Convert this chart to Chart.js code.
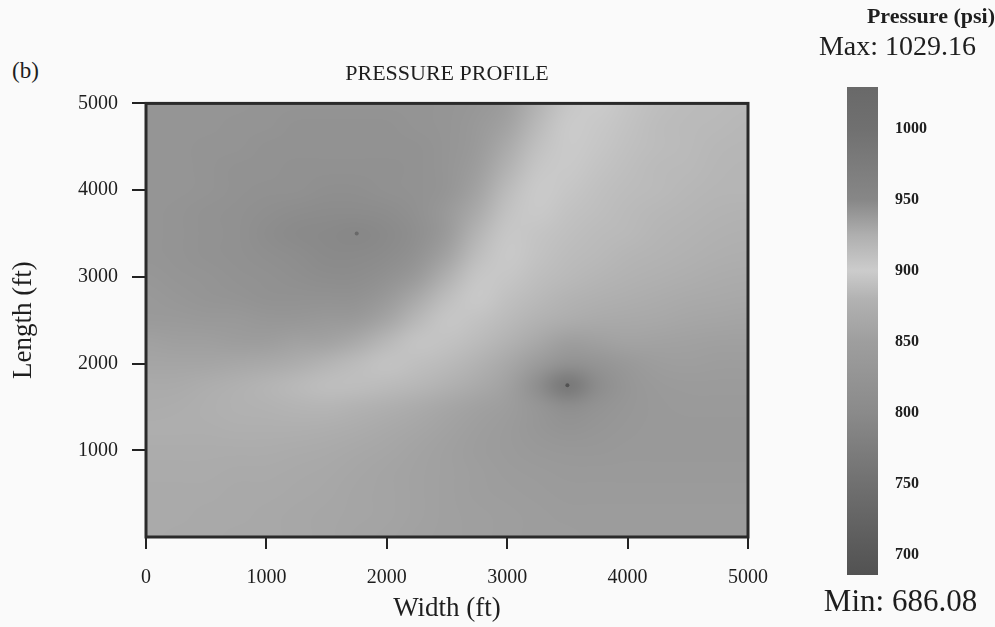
<!DOCTYPE html>
<html>
<head>
<meta charset="utf-8">
<title>Pressure profile</title>
<script src="https://cdn.jsdelivr.net/npm/chart.js@4.4.1/dist/chart.umd.min.js"></script>
<style>
  html, body { margin: 0; padding: 0; background: #fafafa; }
  #wrap { position: relative; width: 995px; height: 627px; overflow: hidden; }
  #mainChart { position: absolute; left: 0; top: 0; }
  #barChart { position: absolute; left: 800px; top: 0; }
  #panelTag { position: absolute; left: 12px; top: 58px; font: 23px 'Liberation Serif', 'Times New Roman', serif; color: #1e1e1e; }
</style>
</head>
<body>
<div id="wrap">
  <div id="panelTag">(b)</div>
  <canvas id="mainChart" width="800" height="627" style="width:800px;height:627px"></canvas>
  <canvas id="barChart" width="195" height="627" style="width:195px;height:627px"></canvas>
</div>
<script>
// Pressure profile (b): grid of pressures, with the colour bar on the right

// grid nodes (ft), every 250 ft; rows go from the top of the plot (5000) down to 0
const gridX = [0, 250, 500, 750, 1000, 1250, 1500, 1750, 2000, 2250, 2500, 2750, 3000, 3250, 3500, 3750, 4000, 4250, 4500, 4750, 5000];
const gridY = [5000, 4750, 4500, 4250, 4000, 3750, 3500, 3250, 3000, 2750, 2500, 2250, 2000, 1750, 1500, 1250, 1000, 750, 500, 250, 0];

// pressure (psi) at each node, one row per gridY value
const pressureGrid = [
    [941, 941, 941, 941, 942, 942, 942, 942, 942, 942, 941, 940, 936, 922, 905, 901, 894, 889, 887, 886, 885],
    [941, 941, 941, 942, 942, 943, 943, 943, 943, 942, 941, 939, 933, 916, 902, 897, 892, 888, 886, 885, 884],
    [941, 941, 942, 942, 943, 943, 943, 943, 943, 943, 941, 938, 928, 910, 902, 895, 891, 888, 886, 884, 883],
    [941, 941, 942, 943, 943, 944, 944, 944, 944, 943, 941, 936, 922, 905, 903, 893, 889, 886, 885, 883, 882],
    [941, 941, 942, 943, 944, 944, 945, 945, 944, 943, 941, 933, 915, 902, 895, 891, 888, 886, 884, 882, 882],
    [941, 942, 943, 944, 945, 946, 947, 947, 946, 944, 939, 928, 909, 903, 892, 889, 886, 884, 882, 881, 880],
    [941, 942, 943, 944, 946, 948, 949, 951, 948, 945, 938, 921, 904, 894, 890, 887, 885, 882, 881, 879, 877],
    [941, 942, 943, 944, 945, 946, 948, 948, 947, 943, 933, 913, 903, 892, 888, 885, 882, 881, 879, 876, 874],
    [940, 941, 942, 943, 944, 945, 946, 946, 944, 938, 924, 905, 895, 889, 885, 882, 880, 877, 874, 871, 870],
    [939, 940, 941, 942, 943, 943, 943, 943, 939, 929, 912, 903, 891, 885, 881, 877, 874, 871, 868, 867, 865],
    [938, 938, 939, 939, 940, 940, 939, 938, 931, 917, 905, 892, 886, 880, 873, 868, 867, 865, 862, 861, 859],
    [934, 935, 935, 936, 936, 934, 933, 928, 917, 907, 892, 887, 880, 865, 850, 853, 857, 856, 855, 853, 853],
    [931, 931, 931, 930, 929, 926, 921, 914, 908, 890, 886, 880, 865, 843, 818, 825, 838, 848, 850, 848, 848],
    [928, 928, 926, 924, 921, 916, 912, 889, 887, 884, 879, 868, 855, 810, 760, 805, 830, 840, 843, 843, 843],
    [927, 926, 925, 923, 922, 921, 882, 880, 876, 870, 862, 855, 848, 830, 810, 823, 833, 838, 840, 840, 840],
    [874, 874, 874, 876, 876, 876, 874, 871, 867, 862, 856, 850, 843, 833, 825, 830, 835, 838, 838, 838, 838],
    [871, 871, 871, 871, 871, 870, 868, 865, 862, 858, 853, 848, 843, 838, 835, 835, 838, 838, 838, 838, 838],
    [870, 870, 870, 868, 868, 867, 865, 862, 859, 856, 853, 850, 845, 843, 840, 840, 840, 840, 840, 840, 840],
    [868, 868, 868, 867, 867, 865, 864, 861, 859, 856, 853, 850, 848, 845, 843, 843, 843, 843, 843, 843, 843],
    [868, 868, 867, 867, 865, 864, 862, 861, 859, 856, 853, 852, 850, 848, 845, 845, 845, 845, 845, 845, 845],
    [868, 867, 867, 865, 865, 864, 862, 859, 858, 855, 853, 852, 850, 848, 848, 845, 845, 845, 845, 845, 845],
];

// wells: injector (max) and producer (min)
const wellX = [1750, 3500];
const wellY = [3500, 1750];
const wellP = [1029.16, 686.08];

const xTicks = [0, 1000, 2000, 3000, 4000, 5000];
const yTicks = [1000, 2000, 3000, 4000, 5000];
const barTicks = [700, 750, 800, 850, 900, 950, 1000];
const pMin = 686.08;
const pMax = 1029.16;

// colour scale of the bar: pressure -> grey level
const cmapPsi = [686.08, 700, 750, 800, 850, 880, 900, 925, 950, 1000, 1029.16];
const cmapGray = [82, 88, 112, 138, 158, 178, 204, 175, 135, 112, 105];

const SERIF = "'Liberation Serif', 'Times New Roman', serif";
const INK = '#1e1e1e';
Chart.defaults.font.family = SERIF;
Chart.defaults.color = INK;

function grayLevel(p) {
    if (p <= cmapPsi[0]) return cmapGray[0];
    for (let i = 1; i < cmapPsi.length; i++) {
        if (p <= cmapPsi[i]) {
            const t = (p - cmapPsi[i - 1]) / (cmapPsi[i] - cmapPsi[i - 1]);
            return cmapGray[i - 1] + t * (cmapGray[i] - cmapGray[i - 1]);
        }
    }
    return cmapGray[cmapGray.length - 1];
}

function grayFor(p) {
    const g = Math.round(grayLevel(p));
    return `rgb(${g}, ${g}, ${g})`;
}

// paints the pressure grid into the plot area, placed with the chart's own scales
const heatmapPlugin = {
    id: 'heatmap',
    beforeDatasetsDraw(chart) {
        const { ctx, chartArea, scales } = chart;
        const cols = gridX.length;
        const rows = gridY.length;
        const off = document.createElement('canvas');
        off.width = cols;
        off.height = rows;
        const octx = off.getContext('2d');
        const img = octx.createImageData(cols, rows);
        for (let r = 0; r < rows; r++) {
            for (let c = 0; c < cols; c++) {
                const g = Math.round(grayLevel(pressureGrid[r][c]));
                const k = (r * cols + c) * 4;
                img.data[k] = g;
                img.data[k + 1] = g;
                img.data[k + 2] = g;
                img.data[k + 3] = 255;
            }
        }
        octx.putImageData(img, 0, 0);

        const halfX = (gridX[1] - gridX[0]) / 2;
        const halfY = (gridY[0] - gridY[1]) / 2;
        const x0 = scales.x.getPixelForValue(gridX[0] - halfX);
        const x1 = scales.x.getPixelForValue(gridX[cols - 1] + halfX);
        const y0 = scales.y.getPixelForValue(gridY[0] + halfY);
        const y1 = scales.y.getPixelForValue(gridY[rows - 1] - halfY);

        ctx.save();
        ctx.beginPath();
        ctx.rect(chartArea.left, chartArea.top, chartArea.right - chartArea.left, chartArea.bottom - chartArea.top);
        ctx.clip();
        ctx.imageSmoothingEnabled = true;
        ctx.imageSmoothingQuality = 'high';
        ctx.drawImage(off, x0, y0, x1 - x0, y1 - y0);
        ctx.restore();
    },
};

// thick box round the plot
const framePlugin = {
    id: 'frame',
    afterDraw(chart) {
        const { ctx, chartArea } = chart;
        ctx.save();
        ctx.strokeStyle = '#2a2a2a';
        ctx.lineWidth = 3;
        ctx.strokeRect(chartArea.left, chartArea.top, chartArea.right - chartArea.left, chartArea.bottom - chartArea.top);
        ctx.restore();
    },
};

const minLabelPlugin = {
    id: 'minLabel',
    afterDraw(chart) {
        const ctx = chart.ctx;
        ctx.save();
        ctx.fillStyle = INK;
        ctx.font = `31px ${SERIF}`;
        ctx.textAlign = 'center';
        ctx.textBaseline = 'middle';
        ctx.fillText(`Min: ${pMin.toFixed(2)}`, chart.width / 2 + 3, 603);
        ctx.restore();
    },
};

const plainTick = v => String(v);

new Chart(document.getElementById('mainChart'), {
    type: 'scatter',
    data: {
        datasets: [{
            label: 'Wells',
            data: wellX.map((x, i) => ({ x: x, y: wellY[i] })),
            pointRadius: 2,
            pointBorderWidth: 0,
            pointBackgroundColor: wellP.map(p => grayFor(p)),
        }],
    },
    options: {
        responsive: false,
        animation: false,
        layout: { padding: { left: 0, right: 52, top: 0, bottom: 0 } },
        plugins: {
            legend: { display: false },
            tooltip: { enabled: false },
            title: {
                display: true,
                text: 'PRESSURE PROFILE',
                fullSize: false,
                color: INK,
                font: { size: 22, weight: 'normal' },
                padding: { top: 61, bottom: 16 },
            },
        },
        scales: {
            x: {
                type: 'linear',
                min: 0,
                max: 5000,
                afterBuildTicks: s => { s.ticks = xTicks.map(v => ({ value: v })); },
                afterFit: s => { s.height = 90; },
                border: { display: false },
                grid: { drawOnChartArea: false, drawTicks: true, tickLength: 12, color: '#222', lineWidth: 2 },
                ticks: { padding: 17, maxRotation: 0, font: { size: 20 }, callback: plainTick },
                title: { display: true, text: 'Width (ft)', font: { size: 27 }, padding: { top: 0, bottom: 2 } },
            },
            y: {
                type: 'linear',
                min: 0,
                max: 5000,
                afterBuildTicks: s => { s.ticks = yTicks.map(v => ({ value: v })); },
                afterFit: s => { s.width = 146; },
                border: { display: false },
                grid: { drawOnChartArea: false, drawTicks: true, tickLength: 14, color: '#222', lineWidth: 2 },
                ticks: { padding: 14, font: { size: 20 }, callback: plainTick },
                title: { display: true, text: 'Length (ft)', font: { size: 27 }, padding: { top: 8, bottom: 0 } },
            },
        },
    },
    plugins: [heatmapPlugin, framePlugin],
});

new Chart(document.getElementById('barChart'), {
    type: 'bar',
    data: {
        labels: ['Pressure'],
        datasets: [{
            label: 'Pressure (psi)',
            data: [[pMin, pMax]],
            xAxisID: 'x',
            yAxisID: 'y',
            borderWidth: 0,
            barPercentage: 1,
            categoryPercentage: 1,
            backgroundColor: (context) => {
                const chart = context.chart;
                const yScale = chart.scales.y;
                if (!chart.chartArea || !yScale) return grayFor(900);
                const grad = chart.ctx.createLinearGradient(0, yScale.getPixelForValue(pMin), 0, yScale.getPixelForValue(pMax));
                cmapPsi.forEach(p => grad.addColorStop((p - pMin) / (pMax - pMin), grayFor(p)));
                return grad;
            },
        }],
    },
    options: {
        responsive: false,
        animation: false,
        layout: { padding: { left: 0, right: 0, top: 0, bottom: 52 } },
        plugins: {
            legend: { display: false },
            tooltip: { enabled: false },
            title: {
                display: true,
                text: 'Pressure (psi)',
                align: 'end',
                color: INK,
                font: { size: 22, weight: 'bold' },
                padding: { top: 4, bottom: 0 },
            },
            subtitle: {
                display: true,
                text: `Max: ${pMax.toFixed(2)}`,
                color: INK,
                font: { size: 28 },
                padding: { top: 0, bottom: 23 },
            },
        },
        scales: {
            x: { type: 'category', display: false },
            y: {
                type: 'linear',
                position: 'right',
                min: pMin,
                max: pMax,
                afterBuildTicks: s => { s.ticks = barTicks.map(v => ({ value: v })); },
                afterFit: s => { s.width = 117; },
                grid: { display: false, drawTicks: false },
                border: { display: false },
                ticks: { padding: 17, font: { size: 16, weight: 'bold' }, callback: plainTick },
            },
            pad: {
                type: 'linear',
                position: 'left',
                afterFit: s => { s.width = 47; },
                ticks: { display: false },
                grid: { display: false, drawTicks: false },
                border: { display: false },
            },
        },
    },
    plugins: [minLabelPlugin],
});
</script>
</body>
</html>
